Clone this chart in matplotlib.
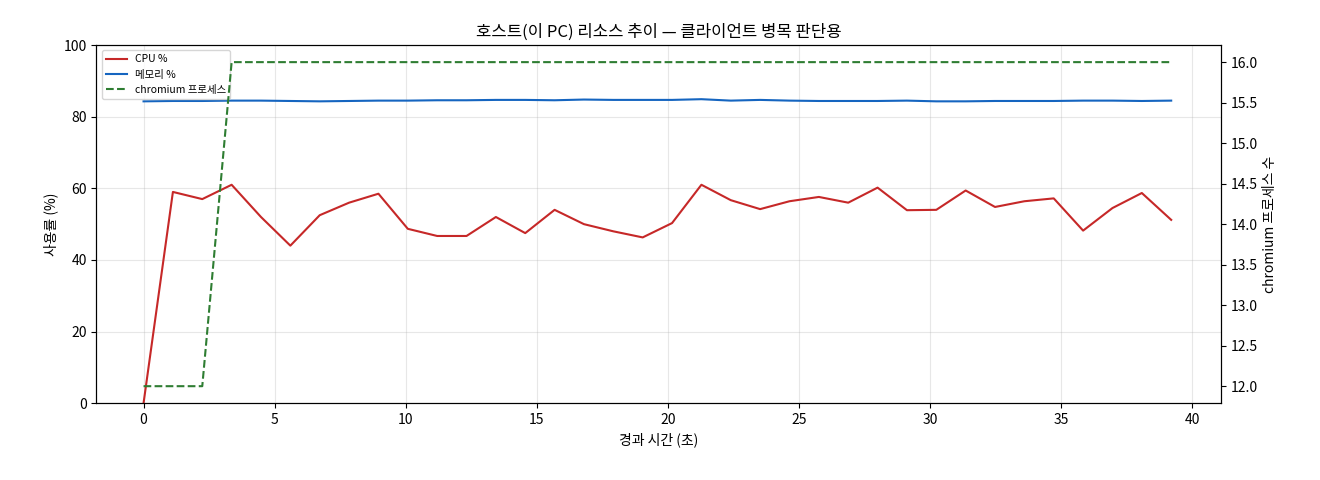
import matplotlib
matplotlib.use("Agg")
import matplotlib.pyplot as plt
import numpy as np

plt.rcParams['font.family'] = ['Noto Sans CJK KR', 'DejaVu Sans']

elapsed = [round(i * 1.12, 2) for i in range(36)]
cpu = [0, 59, 57, 61, 52, 44, 52.5, 56, 58.5, 48.7, 46.7, 46.7, 52, 47.5, 54, 50, 48, 46.3,
       50.3, 61, 56.7, 54.2, 56.4, 57.6, 56, 60.2, 53.9, 54, 59.4, 54.8, 56.4, 57.2, 48.2,
       54.5, 58.7, 51.2]
mem = [84.3, 84.4, 84.4, 84.5, 84.5, 84.4, 84.3, 84.4, 84.5, 84.5, 84.6, 84.6, 84.7, 84.7,
       84.6, 84.8, 84.7, 84.7, 84.7, 84.9, 84.5, 84.7, 84.5, 84.4, 84.4, 84.4, 84.5, 84.3,
       84.3, 84.4, 84.4, 84.4, 84.5, 84.5, 84.4, 84.5]
chromium = [12, 12, 12] + [16] * 33

fig, ax = plt.subplots(figsize=(13.2, 4.8), dpi=100)
l1, = ax.plot(elapsed, cpu, color='#c62828', lw=1.5, label='CPU %')
l2, = ax.plot(elapsed, mem, color='#1565c0', lw=1.5, label='메모리 %')
ax.set_ylim(0, 100)
ax.set_xlim(-1.8, 41.1)
ax.set_xlabel('경과 시간 (초)')
ax.set_ylabel('사용률 (%)')
ax.grid(True, alpha=0.3)
ax2 = ax.twinx()
l3, = ax2.plot(elapsed, chromium, color='#2e7d32', lw=1.5, ls='--', label='chromium 프로세스')
ax2.set_ylim(11.79, 16.21)
ax2.set_ylabel('chromium 프로세스 수')
ax.legend(handles=[l1, l2, l3], loc='upper left', fontsize=7.5)
ax.set_title('호스트(이 PC) 리소스 추이 — 클라이언트 병목 판단용')
fig.subplots_adjust(left=0.073, right=0.925, top=0.906, bottom=0.16)
fig.savefig('out.png')
